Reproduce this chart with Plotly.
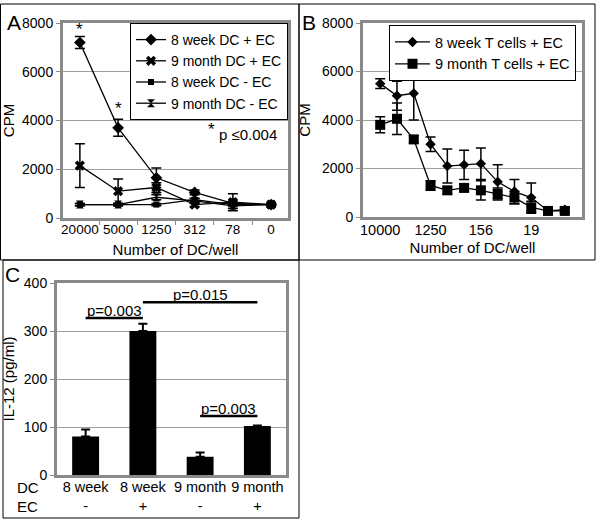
import plotly.graph_objects as go

# ---------------- data ----------------
# Panel A
a_cats = ["20000", "5000", "1250", "312", "78", "0"]
a_8w_ec = [7200, 3700, 1650, 1050, 600, 550]
a_8w_ec_err = [250, 350, 400, 100, 100, 50]
a_9m_ec = [2150, 1100, 1250, 550, 650, 550]
a_9m_ec_err = [900, 500, 200, 80, 350, 50]
a_8w_noec = [550, 550, 550, 750, 550, 550]
a_8w_noec_err = [50, 50, 50, 50, 50, 50]
a_9m_noec = [550, 550, 850, 700, 500, 550]
a_9m_noec_err = [50, 50, 100, 100, 100, 50]
a_star_cats = ["20000", "5000"]
a_star_y = [7750, 4500]

# Panel B
b_cats = ["10000", "5000", "2500", "1250", "625", "312", "156", "78", "39", "19", "10", "5"]
b_tick_labels = ["10000", "1250", "156", "19"]
b_8w = [5500, 5000, 5100, 3000, 2100, 2150, 2200, 1450, 1050, 800, 250, 300]
b_8w_err = [200, 600, 1100, 300, 700, 600, 650, 700, 500, 600, 100, 100]
b_9m = [3800, 4050, 3200, 1300, 1100, 1200, 1100, 950, 800, 400, 250, 250]
b_9m_err = [330, 650, 150, 200, 150, 150, 400, 250, 250, 250, 100, 100]

# Panel C
c_pos = [0, 1, 2, 3]
c_dc = ["8 week", "8 week", "9 month", "9 month"]
c_ec = ["-", "+", "-", "+"]
c_vals = [80, 300, 38, 102]
c_err = [15, 15, 9, 1]
c_sig_from = [0, 1, 2]
c_sig_to = [1, 3, 3]
c_sig_level = [327, 360, 123]
c_sig_text = ["p=0.003", "p=0.015", "p=0.003"]

# ---------------- figure ----------------
W, H = 603, 524
FONT = "Liberation Sans, Arial, Helvetica, sans-serif"


def fx(p):
    return p / W


def fy(p):
    return 1 - p / H


fig = go.Figure()

err_style = dict(type="data", color="black", thickness=1.5, width=5)

a_series = [
    ("8 week DC + EC", a_8w_ec, a_8w_ec_err, "diamond", 9),
    ("9 month DC + EC", a_9m_ec, a_9m_ec_err, "x", 9),
    ("8 week DC - EC", a_8w_noec, a_8w_noec_err, "square", 6),
    ("9 month DC - EC", a_9m_noec, a_9m_noec_err, "hourglass", 8),
]
for name, vals, errs, sym, sz in a_series:
    fig.add_trace(go.Scatter(
        x=a_cats, y=vals, name=name, mode="lines+markers",
        line=dict(color="black", width=1.3),
        marker=dict(symbol=sym, size=sz, color="black"),
        error_y=dict(array=errs, **err_style),
        xaxis="x", yaxis="y", legend="legend"))

b_series = [
    ("8 week T cells + EC", b_8w, b_8w_err, "diamond", 8),
    ("9 month T cells + EC", b_9m, b_9m_err, "square", 10),
]
for name, vals, errs, sym, sz in b_series:
    fig.add_trace(go.Scatter(
        x=b_cats, y=vals, name=name, mode="lines+markers",
        line=dict(color="black", width=1.3),
        marker=dict(symbol=sym, size=sz, color="black"),
        error_y=dict(array=errs, **err_style),
        xaxis="x2", yaxis="y2", legend="legend2"))

fig.add_trace(go.Bar(
    x=c_pos, y=c_vals, width=0.47, marker=dict(color="black", line=dict(width=0)),
    error_y=dict(type="data", array=c_err, arrayminus=[0] * len(c_err), symmetric=False,
                 color="black", thickness=2, width=4.5),
    showlegend=False, xaxis="x3", yaxis="y3"))

axis_common = dict(showline=True, mirror=True, linecolor="#8a8a8a", linewidth=3,
                   zeroline=False, ticks="outside", ticklen=4, tickcolor="#8a8a8a",
                   automargin=False,
                   tickfont=dict(size=14, color="black", family=FONT))
yaxis_common = dict(axis_common, showgrid=True, gridcolor="#a0a0a0", gridwidth=1)

fig.update_layout(
    width=W, height=H, margin=dict(l=0, r=0, t=0, b=0, autoexpand=False),
    paper_bgcolor="white", plot_bgcolor="white",
    font=dict(family=FONT, size=14.5, color="black"),
    xaxis=dict(axis_common, domain=[fx(63), fx(288)], anchor="y", type="category",
               categoryorder="array", categoryarray=a_cats,
               tickson="boundaries", showgrid=False, tickangle=0, ticklabelstandoff=-3,
               tickfont=dict(size=13.5, color="black", family=FONT),
               title=dict(text="Number of DC/well", standoff=9, font=dict(size=15))),
    yaxis=dict(yaxis_common, domain=[fy(218), fy(23)], anchor="x", range=[0, 8000],
               dtick=2000, title=dict(text="CPM", standoff=8, font=dict(size=15))),
    xaxis2=dict(axis_common, domain=[fx(363), fx(582)], anchor="y2", type="category",
                categoryorder="array", categoryarray=b_cats,
                tickvals=b_tick_labels, ticks="", showgrid=False, tickangle=0,
                ticklabelstandoff=-2, tickfont=dict(size=14.5, color="black", family=FONT),
                title=dict(text="Number of DC/well", standoff=6, font=dict(size=15))),
    yaxis2=dict(yaxis_common, domain=[fy(217), fy(23)], anchor="x2", range=[0, 8000],
                dtick=2000, title=dict(text="CPM", standoff=8, font=dict(size=15))),
    xaxis3=dict(axis_common, domain=[fx(57), fx(286)], anchor="y3", range=[-0.5, 3.5],
                tickvals=c_pos, ticktext=[f"{d}<br>{e}" for d, e in zip(c_dc, c_ec)],
                ticks="", showgrid=False, tickangle=0, ticklabelstandoff=-3,
                tickfont=dict(size=14.5, color="black", family=FONT)),
    yaxis3=dict(yaxis_common, domain=[fy(475), fy(283)], anchor="x3", range=[0, 400],
                dtick=100, title=dict(text="IL-12 (pg/ml)", standoff=6, font=dict(size=15))),
    legend=dict(x=fx(288), y=fy(23), xanchor="right", yanchor="top", bgcolor="white",
                bordercolor="black", borderwidth=1, font=dict(size=14), itemwidth=30,
                tracegroupgap=0),
    legend2=dict(x=fx(576), y=fy(25), xanchor="right", yanchor="top", bgcolor="white",
                 bordercolor="black", borderwidth=1, font=dict(size=14.5), itemwidth=35,
                 tracegroupgap=0),
)

shapes = [
    dict(type="rect", xref="paper", yref="paper", x0=fx(0.5), x1=fx(299), y0=fy(260), y1=fy(4),
         line=dict(color="black", width=1)),
    dict(type="rect", xref="paper", yref="paper", x0=fx(299), x1=fx(595), y0=fy(260), y1=fy(4),
         line=dict(color="black", width=1)),
    dict(type="rect", xref="paper", yref="paper", x0=fx(3), x1=fx(299), y0=fy(518), y1=fy(260),
         line=dict(color="black", width=1)),
]
annotations = []
for f, t, lvl, txt in zip(c_sig_from, c_sig_to, c_sig_level, c_sig_text):
    shapes.append(dict(type="line", xref="x3", yref="y3", x0=f, x1=t, y0=lvl, y1=lvl,
                       line=dict(color="black", width=2.5)))
    annotations.append(dict(x=(f + t) / 2, y=lvl, xref="x3", yref="y3", text=txt,
                            showarrow=False, xanchor="center", yanchor="bottom", yshift=-3,
                            font=dict(size=15)))

for c, yv in zip(a_star_cats, a_star_y):
    annotations.append(dict(x=a_cats.index(c), y=yv, xref="x", yref="y", text="*",
                            showarrow=False, xanchor="center", yanchor="middle",
                            font=dict(size=17)))
annotations.append(dict(x=fx(211), y=fy(129), xref="paper", yref="paper", text="*",
                        showarrow=False, xanchor="center", yanchor="middle", font=dict(size=17)))
annotations.append(dict(x=fx(217), y=fy(134), xref="paper", yref="paper", text="p \u22640.004",
                        showarrow=False, xanchor="left", yanchor="middle", font=dict(size=15)))

for letter, xp, yp in [("A", 14, 22), ("B", 309, 22), ("C", 12, 274)]:
    annotations.append(dict(x=fx(xp), y=fy(yp), xref="paper", yref="paper", text=letter,
                            showarrow=False, xanchor="center", yanchor="middle",
                            borderpad=0, font=dict(size=21)))

annotations.append(dict(x=fx(15), y=fy(487), xref="paper", yref="paper", text="DC",
                        showarrow=False, xanchor="left", yanchor="middle", font=dict(size=15)))
annotations.append(dict(x=fx(15), y=fy(506), xref="paper", yref="paper", text="EC",
                        showarrow=False, xanchor="left", yanchor="middle", font=dict(size=15)))

fig.update_layout(shapes=shapes, annotations=annotations)
fig.write_html("out.html", config={"displayModeBar": False},
               post_script="document.body.style.margin='0px';")
